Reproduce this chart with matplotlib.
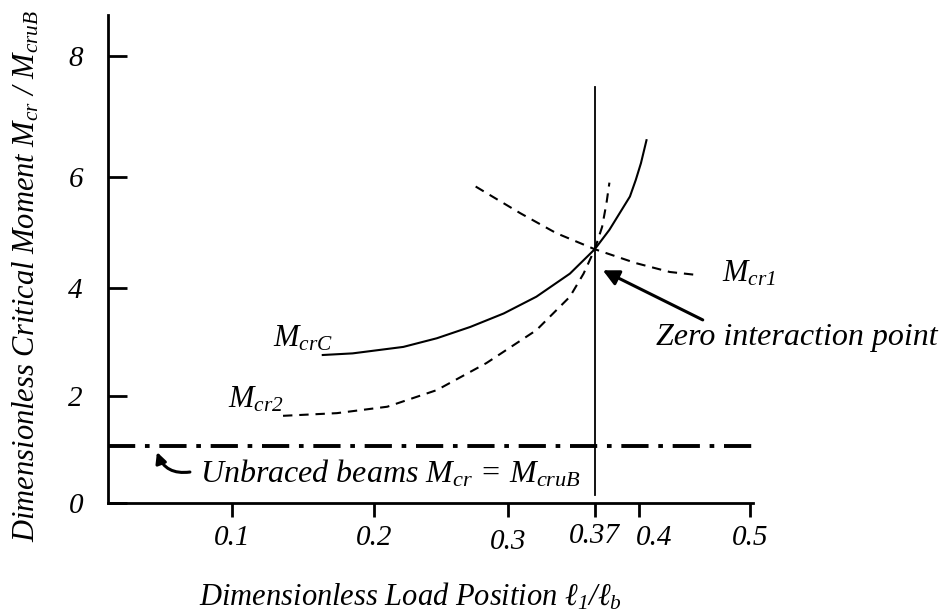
import numpy as np
import matplotlib
matplotlib.use("Agg")
import matplotlib.pyplot as plt
import matplotlib.transforms as mtransforms
from matplotlib.scale import FuncScale

plt.rcParams['font.family'] = ['Liberation Serif', 'DejaVu Serif']
plt.rcParams['font.style'] = 'italic'
plt.rcParams['mathtext.fontset'] = 'custom'
plt.rcParams['mathtext.it'] = 'Liberation Serif:italic'
plt.rcParams['mathtext.rm'] = 'Liberation Serif:italic'

# data (load position, moment ratio)
mcrc_x = [0.164, 0.185, 0.222, 0.247, 0.272, 0.297, 0.323, 0.350, 0.370, 0.380, 0.387,
          0.394, 0.398, 0.402, 0.407]
mcrc_y = [2.76, 2.79, 2.91, 3.07, 3.28, 3.53, 3.84, 4.26, 4.70, 5.05, 5.35,
          5.65, 5.95, 6.23, 6.61]

mcr2_x = [0.136, 0.174, 0.210, 0.247, 0.284, 0.323, 0.350, 0.361, 0.370, 0.375, 0.378, 0.380]
mcr2_y = [1.63, 1.68, 1.80, 2.11, 2.61, 3.22, 3.84, 4.26, 4.70, 5.10, 5.53, 5.90]

mcr1_x = [0.276, 0.310, 0.339, 0.370, 0.398, 0.428, 0.455]
mcr1_y = [5.83, 5.35, 4.99, 4.70, 4.45, 4.29, 4.23]

unbraced_x = [0.0, 0.502]
unbraced_y = [1.07, 1.07]

zero_x = 0.37
zero_line_y = [0.15, 7.49]

x_ticks = [0.1, 0.2, 0.3, 0.37, 0.4, 0.5]
x_tick_labels = ['0.1', '0.2', '0.3', '0.37', '0.4', '0.5']
y_ticks = [0, 2, 4, 6, 8]
y_tick_labels = ['0', '2', '4', '6', '8']

# the sketch is not drawn to scale: piecewise axes that follow its tick spacing
X_ANCHOR_V = [-1.0, 0.0, 0.1, 0.2, 0.3, 0.37, 0.4, 0.5, 1.5]
X_ANCHOR_P = [-1132, 108, 232, 374, 508, 595, 639, 750, 1860]
Y_ANCHOR_V = [-10, 0, 2, 4, 6, 8, 18]
Y_ANCHOR_P = [-535, 0, 107, 215, 326, 447, 1052]


def fwd_x(v):
    return np.interp(v, X_ANCHOR_V, X_ANCHOR_P)


def inv_x(p):
    return np.interp(p, X_ANCHOR_P, X_ANCHOR_V)


def fwd_y(v):
    return np.interp(v, Y_ANCHOR_V, Y_ANCHOR_P)


def inv_y(p):
    return np.interp(p, Y_ANCHOR_P, Y_ANCHOR_V)


W, H = 946, 616
fig = plt.figure(figsize=(W / 100, H / 100), dpi=100)
ax = fig.add_axes([108 / W, 1 - 503 / H, (753 - 108) / W, (503 - 15) / H])
ax.set_xscale(FuncScale(ax, (fwd_x, inv_x)))
ax.set_yscale(FuncScale(ax, (fwd_y, inv_y)))
ax.set_xlim(0, 0.503)
ax.set_ylim(0, 8.68)

ax.plot(mcrc_x, mcrc_y, color='black', lw=1.5, solid_joinstyle='round')
ax.plot(mcr2_x, mcr2_y, color='black', lw=1.5, ls=(0, (4.5, 3.3)))
ax.plot(mcr1_x, mcr1_y, color='black', lw=1.5, ls=(0, (4.5, 3.3)))
ax.plot(unbraced_x, unbraced_y, color='black', lw=2.8, ls=(0, (7, 2.5, 1.2, 2.5)))
ax.plot([zero_x, zero_x], zero_line_y, color='black', lw=1.3)

# labels on the curves
ax.text(0.1289, 2.91, r'$\mathit{M_{crC}}$', fontsize=22, ha='left', va='baseline')
ax.text(0.0968, 1.79, r'$\mathit{M_{cr2}}$', fontsize=22, ha='left', va='baseline')
ax.text(0.4748, 4.11, r'$\mathit{M_{cr1}}$', fontsize=22, ha='left', va='baseline')

ax.text(0.0742, 0.374, r'Unbraced beams $\mathit{M_{cr}}$ = $\mathit{M_{cruB}}$',
        fontsize=23, ha='left', va='baseline')
ax.annotate('', xy=(0.0395, 0.953), xytext=(0.0661, 0.579),
            arrowprops=dict(arrowstyle='-|>', color='black', lw=2.2,
                            mutation_scale=16, shrinkA=0, shrinkB=0,
                            connectionstyle='arc3,rad=-0.4'))

ax.text(0.5423, 3.09, 'Zero interaction point', fontsize=23, ha='center', va='center',
        clip_on=False)
ax.annotate('', xy=(0.3755, 4.32), xytext=(0.4577, 3.41),
            arrowprops=dict(arrowstyle='-|>', color='black', lw=2.2,
                            mutation_scale=24, shrinkA=0, shrinkB=0),
            annotation_clip=False)

ax.set_xticks(x_ticks, x_tick_labels)
ax.set_yticks(y_ticks, y_tick_labels)
ax.tick_params(axis='x', direction='out', length=10, width=2, pad=6, labelsize=21)
ax.tick_params(axis='y', direction='in', length=14, width=2, pad=18, labelsize=21)
ax.minorticks_off()

# the sketch has a few tick labels nudged off their ticks
xt = ax.xaxis.get_major_ticks()
xt[2].set_pad(8.5)
xt[3].set_pad(4.5)
lab04 = xt[4].label1
lab04.set_transform(lab04.get_transform() +
                    mtransforms.ScaledTranslation(15 / 100, 0, fig.dpi_scale_trans))

for sp in ['top', 'right']:
    ax.spines[sp].set_visible(False)
ax.spines['left'].set_linewidth(2)
ax.spines['bottom'].set_linewidth(2)

ax.set_xlabel(r'Dimensionless Load Position $\ell_{\mathit{1}}/\ell_{\mathit{b}}$', fontsize=22)
ax.xaxis.label.set_va('center')
ax.xaxis.set_label_coords((410 - 108) / (753 - 108), -(597 - 503) / (503 - 15))
ax.set_ylabel(r'Dimensionless Critical Moment $\mathit{M_{cr}}$ / $\mathit{M_{cruB}}$', fontsize=22)
ax.yaxis.label.set_va('center')
ax.yaxis.set_label_coords(-(108 - 26) / (753 - 108), (503 - 276) / (503 - 15))

fig.savefig('out.png', dpi=100)
